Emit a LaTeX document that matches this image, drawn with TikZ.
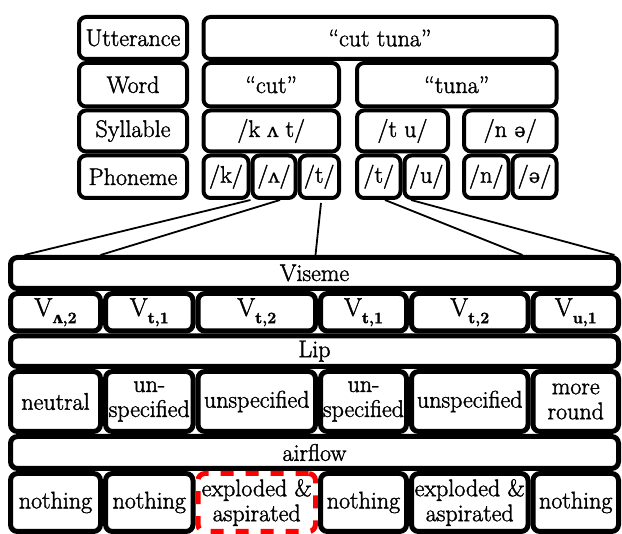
\documentclass[tikz,border=0pt]{standalone}
\usepackage{fontspec}
\newfontfamily\ipa{DejaVu Serif}[FakeBold=0.8]
\newfontfamily\heavy{Latin Modern Roman}[FakeBold=1.6]
\usetikzlibrary{calc}
\newcommand\tcell[6]{\node[tbox, minimum width={#3pt-#1pt-4pt}, minimum height={#4pt-#2pt-4pt}] (#5) at ({(#1+#3)/2},{(#2+#4)/2}) {#6};}
\newcommand\bcell[6]{\node[bbox, minimum width={#3pt-#1pt-5pt}, minimum height={#4pt-#2pt-5pt}] (#5) at ({(#1+#3)/2},{(#2+#4)/2}) {#6};}
\newcommand\vsub[1]{{\fontsize{26}{26}\selectfont V}\raisebox{-0.3em}{\fontsize{16}{16}\selectfont\bfseries #1}}
\newcommand\ip[1]{{\ipa\fontsize{19.5}{21}\selectfont #1}}
\begin{document}
\begin{tikzpicture}[x=1pt,y=-1pt,
  tbox/.style={draw, line width=4pt, rounded corners=7pt, inner sep=0pt, align=center, font=\heavy\fontsize{24}{26}\selectfont},
  bbox/.style={draw, line width=5pt, rounded corners=7pt, inner sep=0pt, align=center, font=\heavy\fontsize{24}{25}\selectfont},
  conn/.style={line width=1.8pt},
  hl/.style={draw=red, line width=5pt, dash pattern=on 13pt off 12pt, rounded corners=7pt}]
\useasboundingbox (0,0) rectangle (622,534);
% top labels
\tcell{77}{15}{189}{61}{lutt}{Utterance}
\tcell{77}{61}{189}{108.5}{lword}{Word}
\tcell{77}{108.5}{189}{153.5}{lsyl}{Syllable}
\tcell{77}{153.5}{189}{200}{lph}{Phoneme}
% top content
\tcell{201.5}{15}{558.5}{61}{utt}{“cut tuna”}
\tcell{201.5}{61}{341}{108.5}{wcut}{“cut”}
\tcell{355}{61}{558.5}{108.5}{wtuna}{“tuna”}
\tcell{201.5}{108.5}{341}{153.5}{scut}{/k \ip{ʌ} t/}
\tcell{355}{108.5}{450}{153.5}{stu}{/t u/}
\tcell{462}{108.5}{558.5}{153.5}{sna}{/n \ip{ə}/}
\tcell{201.5}{153.5}{250.5}{200}{pk}{/k/}
\tcell{250.5}{153.5}{297.5}{200}{pa}{/\ip{ʌ}/}
\tcell{297.5}{153.5}{341}{200}{pta}{/t/}
\tcell{355}{153.5}{402.5}{200}{ptb}{/t/}
\tcell{402.5}{153.5}{450}{200}{pu}{/u/}
\tcell{462}{153.5}{510.5}{200}{pn}{/n/}
\tcell{510.5}{153.5}{558.5}{200}{pe}{/\ip{ə}/}
% bottom
\bcell{8}{255}{621}{291}{vis}{Viseme}
\bcell{8}{291}{103}{333.5}{va}{\vsub{{\ipa ʌ},2}}
\bcell{103}{291}{195.5}{333.5}{vb}{\vsub{t,1}}
\bcell{195.5}{291}{318}{333.5}{vc}{\vsub{t,2}}
\bcell{318}{291}{409}{333.5}{vd}{\vsub{t,1}}
\bcell{409}{291}{530.5}{333.5}{ve}{\vsub{t,2}}
\bcell{530.5}{291}{621}{333.5}{vf}{\vsub{u,1}}
\bcell{8}{333.5}{621}{369}{lip}{Lip}
\bcell{8}{369}{103}{434}{la}{neutral}
\bcell{103}{369}{195.5}{434}{lb}{un-\\specified}
\bcell{195.5}{369}{318}{434}{lc}{unspecified}
\bcell{318}{369}{409}{434}{ld}{un-\\specified}
\bcell{409}{369}{530.5}{434}{le}{unspecified}
\bcell{530.5}{369}{621}{434}{lf}{more\\round}
\bcell{8}{434}{621}{471}{air}{airflow}
\bcell{8}{471}{103}{534}{aa}{nothing}
\bcell{103}{471}{195.5}{534}{ab}{nothing}
\node[hl, inner sep=0pt, align=center, font=\heavy\fontsize{24}{25}\selectfont, minimum width=117.5pt, minimum height=58pt] (ac) at (256.75,502.5) {exploded \&\\aspirated};
\bcell{318}{471}{409}{534}{ad}{nothing}
\bcell{409}{471}{530.5}{534}{ae}{exploded \&\\aspirated}
\bcell{530.5}{471}{621}{534}{af}{nothing}
% connectors
\draw[conn] (pa.south west) -- ($(vis.north west)+(16.5,0)$);
\draw[conn] ($(pa.south west)+(29.5,0)$) -- ($(vis.north west)+(92.5,0)$);
\draw[conn] ($(pta.south west)+(23.5,3)$) -- ($(vis.north west)+(307.5,0)$);
\draw[conn] ($(ptb.south west)+(30,0)$) -- ($(vis.north west)+(514.5,0)$);
\draw[conn] ($(pu.south west)+(8.5,0)$) -- ($(vis.north west)+(606.5,0)$);
\end{tikzpicture}
\end{document}
